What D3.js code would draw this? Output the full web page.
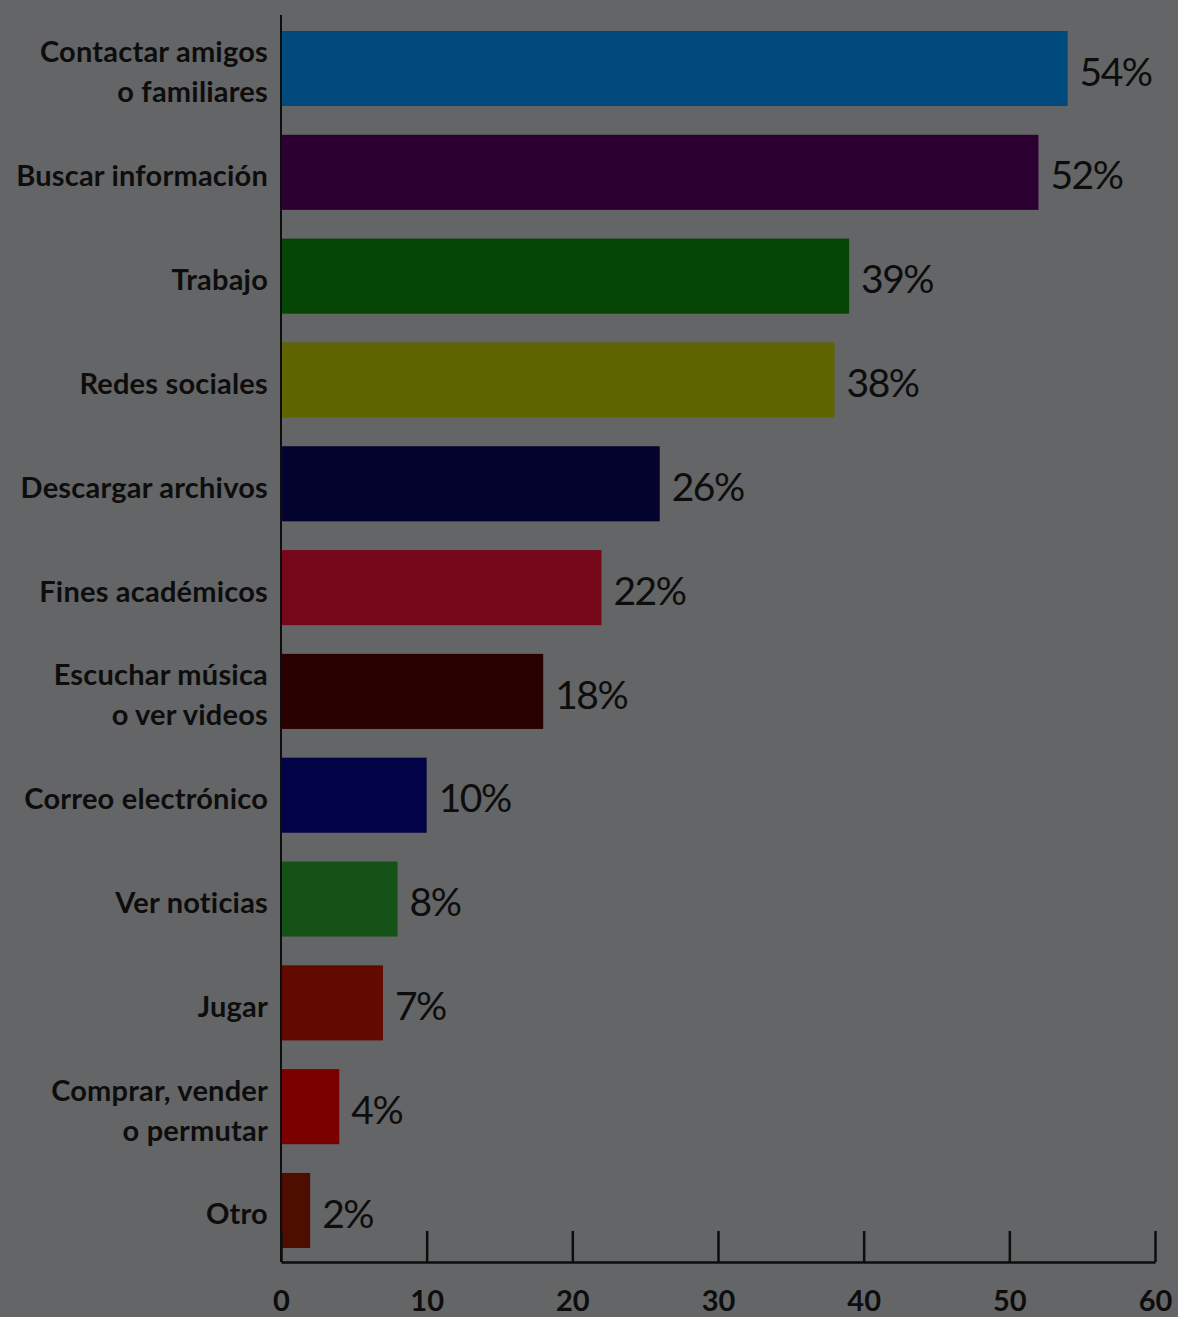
<!DOCTYPE html>
<html><head><meta charset="utf-8">
<script src="https://cdn.jsdelivr.net/npm/d3@7"></script>
<style>
html,body{margin:0;padding:0;background:#646566;}
svg{display:block;}
</style></head>
<body>
<svg id="c" width="1178" height="1317"></svg>
<script>
const categories = [
  "Contactar amigos|o familiares",
  "Buscar información",
  "Trabajo",
  "Redes sociales",
  "Descargar archivos",
  "Fines académicos",
  "Escuchar música|o ver videos",
  "Correo electrónico",
  "Ver noticias",
  "Jugar",
  "Comprar, vender|o permutar",
  "Otro"
];
const values = [54, 52, 39, 38, 26, 22, 18, 10, 8, 7, 4, 2];
const colors = ["#004a7e","#2d0032","#054505","#5e6400","#03032e","#76061a","#280000","#030348","#145218","#620a00","#7a0000","#4d0e00"];
const tickValues = [0, 10, 20, 30, 40, 50, 60];

const svg = d3.select("#c");
const left = 281, right = 1155, axisY = 1262;
const x = d3.scaleLinear().domain([0, 60]).range([left, right]);
const y = d3.scaleBand().domain(categories).range([20.6, 1258.4]).paddingInner(0.277).paddingOuter(0.1);

svg.append("rect").attr("width",1178).attr("height",1317).attr("fill","#646566");

svg.selectAll("rect.bar").data(categories).join("rect")
  .attr("class","bar")
  .attr("x", x(0))
  .attr("y", d => y(d))
  .attr("width", (d,i) => x(values[i]) - x(0))
  .attr("height", y.bandwidth())
  .attr("fill", (d,i) => colors[i]);

// value labels
svg.selectAll("text.val").data(categories).join("text")
  .attr("class","val")
  .attr("x", (d,i) => x(values[i]) + 12)
  .attr("y", d => y(d) + y.bandwidth()/2)
  .attr("dy","0.44em")
  .attr("font-family","Lato, 'Open Sans', sans-serif")
  .attr("font-size", 39)
  .attr("letter-spacing", -1.5)
  .attr("fill","#0d0d0d")
  .text((d,i) => values[i] + "%");

// category labels
const lab = svg.selectAll("text.cat").data(categories).join("text")
  .attr("class","cat")
  .attr("text-anchor","end")
  .attr("font-family","Lato, 'Open Sans', sans-serif")
  .attr("font-weight","bold")
  .attr("font-size", 29)
  .attr("letter-spacing", 0.2)
  .attr("fill","#0d0d0d");
lab.each(function(d){
  const lines = d.split("|");
  const cy = y(d) + y.bandwidth()/2;
  const lh = 40;
  const t = d3.select(this);
  lines.forEach((l, k) => {
    t.append("tspan")
      .attr("x", 268)
      .attr("y", cy + (k - (lines.length-1)/2) * lh)
      .attr("dy","0.48em")
      .text(l);
  });
});

// y axis line
svg.append("line").attr("x1", left).attr("x2", left).attr("y1", 15).attr("y2", axisY)
  .attr("stroke","#0d0d0d").attr("stroke-width",2);

// x axis
const xAxis = d3.axisBottom(x).tickValues(tickValues).tickSizeInner(-31).tickSizeOuter(0).tickPadding(28).tickFormat(d3.format("d"));
const gx = svg.append("g").attr("transform", `translate(0,${axisY})`).call(xAxis);
gx.select(".domain").attr("stroke","#0d0d0d").attr("stroke-width",2.5);
gx.selectAll(".tick line").attr("stroke","#0d0d0d").attr("stroke-width",2.5);
gx.selectAll(".tick text")
  .attr("font-family","Lato, 'Open Sans', sans-serif")
  .attr("font-weight","bold")
  .attr("font-size", 29)
  .attr("fill","#0d0d0d");
</script>
</body></html>
